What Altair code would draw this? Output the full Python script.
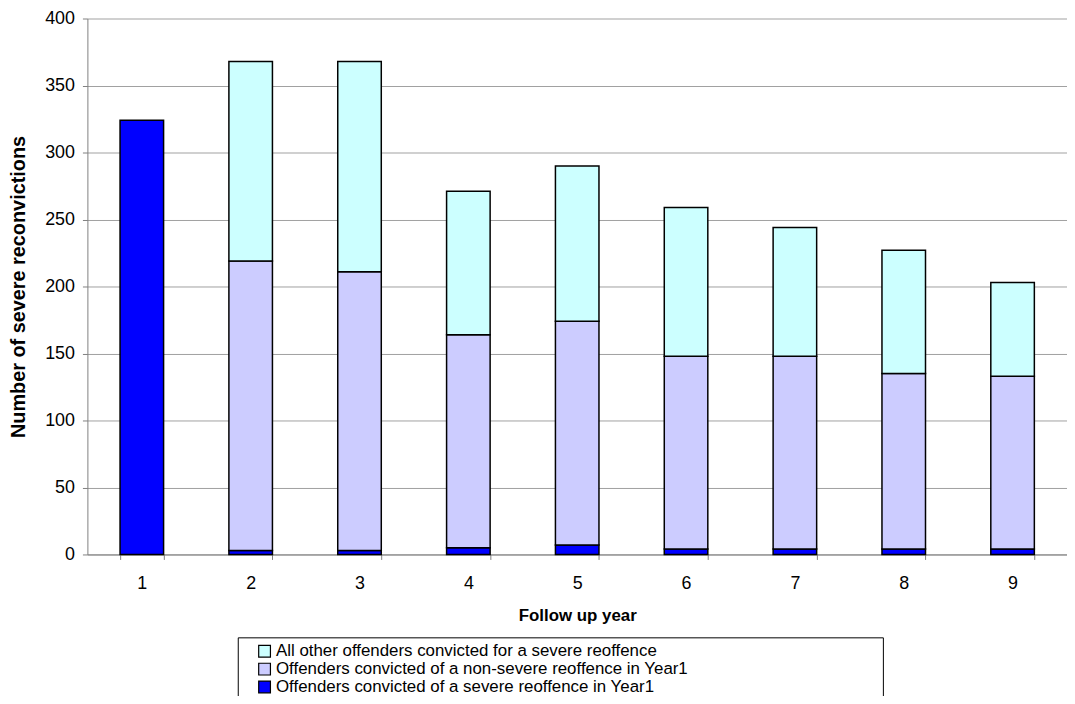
import altair as alt
import pandas as pd

years = ["1", "2", "3", "4", "5", "6", "7", "8", "9"]
severe_year1 = [324, 3, 3, 5, 7, 4, 4, 4, 4]
nonsevere_year1 = [0, 216, 208, 159, 167, 144, 144, 131, 129]
all_other = [0, 149, 157, 107, 116, 111, 96, 92, 70]

series_names = [
    "All other offenders convicted for a severe reoffence",
    "Offenders convicted of a non-severe reoffence in Year1",
    "Offenders convicted of a severe reoffence in Year1",
]
series_colors = ["#CCFFFF", "#CCCCFF", "#0000FF"]
stack_order = {series_names[2]: 0, series_names[1]: 1, series_names[0]: 2}

y_ticks = [0, 50, 100, 150, 200, 250, 300, 350, 400]

rows = []
for i, yr in enumerate(years):
    for name, vals in [(series_names[2], severe_year1), (series_names[1], nonsevere_year1), (series_names[0], all_other)]:
        if vals[i] > 0:
            rows.append({"year": yr, "series": name, "value": vals[i], "order": stack_order[name]})
df = pd.DataFrame(rows)

FONT = "Liberation Sans"

bars = alt.Chart(df).mark_bar(stroke="black", strokeWidth=1.5).encode(
    x=alt.X("year:N", sort=years, title="Follow up year",
            scale=alt.Scale(paddingInner=0.6, paddingOuter=0.3),
            axis=alt.Axis(labelAngle=0, tickBand="extent", grid=False,
                          labelFontSize=18, labelPadding=15,
                          titleFontSize=17, titleFontWeight="bold", titlePadding=16)),
    y=alt.Y("value:Q", stack="zero", title="Number of severe reconvictions",
            scale=alt.Scale(domain=[0, 400], nice=False),
            axis=alt.Axis(values=y_ticks, grid=True, labelFontSize=18, labelPadding=8,
                          titleFontSize=20, titleFontWeight="bold", titlePadding=16)),
    color=alt.Color("series:N",
                    scale=alt.Scale(domain=series_names, range=series_colors),
                    legend=alt.Legend(orient="none", legendX=170, legendY=629, title=None,
                                      symbolType="square", symbolSize=140,
                                      symbolStrokeColor="black", symbolStrokeWidth=1.2,
                                      symbolOpacity=1, labelFontSize=17, labelOffset=3,
                                      rowPadding=0, labelLimit=900)),
    order=alt.Order("order:Q", sort="ascending"),
)

box = alt.Chart(alt.Data(values=[{}])).mark_rect(filled=False, stroke="black", strokeWidth=1).encode(
    x=alt.value(152), x2=alt.value(802), y=alt.value(624), y2=alt.value(700)
)

chart = alt.layer(bars, box).properties(
    width=987, height=540,
    autosize=alt.AutoSizeParams(type="none"),
    padding={"left": 80, "top": 8, "right": 0, "bottom": 140},
).configure(font=FONT).configure_view(stroke=None).configure_axis(
    domainColor="#808080", tickColor="#808080", gridColor="#A0A0A0",
    labelColor="black", titleColor="black", labelFont=FONT, titleFont=FONT,
    tickSize=5,
).configure_legend(labelFont=FONT, labelColor="black")

chart.save("out.html", embed_options={"renderer": "svg", "actions": False})
